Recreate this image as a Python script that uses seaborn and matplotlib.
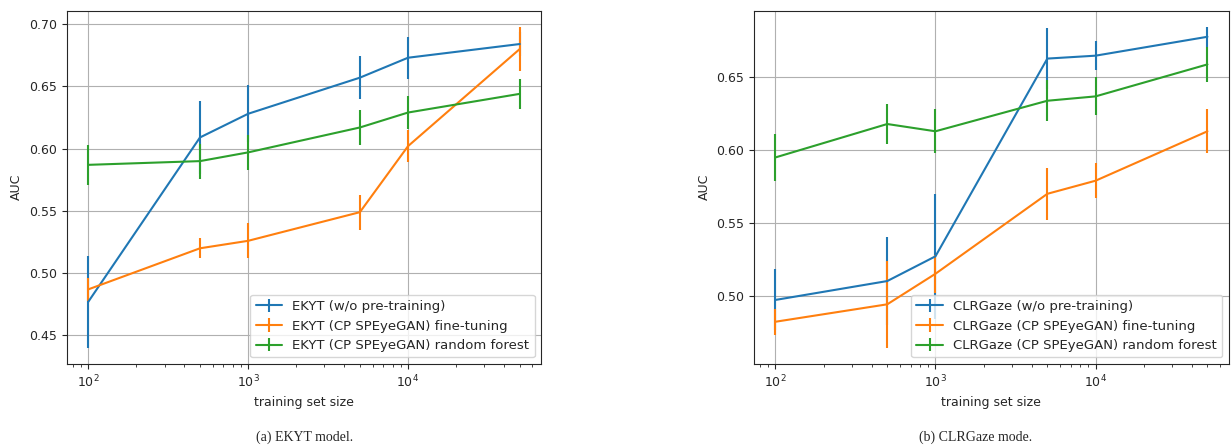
import numpy as np
import pandas as pd
import matplotlib
matplotlib.use("Agg")
import matplotlib.pyplot as plt
import seaborn as sns

sizes = [100, 500, 1000, 5000, 10000, 50000]

# (a) EKYT
ekyt_base = [0.477, 0.609, 0.628, 0.657, 0.673, 0.684]
ekyt_base_err = [0.037, 0.029, 0.023, 0.017, 0.017, 0.010]
ekyt_ft = [0.487, 0.520, 0.526, 0.549, 0.602, 0.680]
ekyt_ft_err = [0.009, 0.008, 0.014, 0.014, 0.013, 0.018]
ekyt_rf = [0.587, 0.590, 0.597, 0.617, 0.629, 0.644]
ekyt_rf_err = [0.016, 0.014, 0.014, 0.014, 0.013, 0.012]

# (b) CLRGaze
clr_base = [0.497, 0.510, 0.527, 0.663, 0.665, 0.678]
clr_base_err = [0.021, 0.030, 0.043, 0.021, 0.010, 0.007]
clr_ft = [0.482, 0.494, 0.515, 0.570, 0.579, 0.613]
clr_ft_err = [0.009, 0.030, 0.013, 0.018, 0.012, 0.015]
clr_rf = [0.595, 0.618, 0.613, 0.634, 0.637, 0.659]
clr_rf_err = [0.016, 0.014, 0.015, 0.014, 0.013, 0.012]

labels_ekyt = ["EKYT (w/o pre-training)",
               "EKYT (CP SPEyeGAN) fine-tuning",
               "EKYT (CP SPEyeGAN) random forest"]
labels_clr = ["CLRGaze (w/o pre-training)",
              "CLRGaze (CP SPEyeGAN) fine-tuning",
              "CLRGaze (CP SPEyeGAN) random forest"]

sns.set_style("ticks")
plt.rcParams["font.family"] = ["DejaVu Sans"]
colors = sns.color_palette("tab10", 3)

fig = plt.figure(figsize=(12.32, 4.48), dpi=100)
ax1 = fig.add_axes([0.0541, 0.1875, 0.3853, 0.789])
ax2 = fig.add_axes([0.6118, 0.1875, 0.3858, 0.789])


def panel(ax, series, labels):
    for (y, e), lab, c in zip(series, labels, colors):
        ax.errorbar(sizes, y, yerr=e, color=c, label=lab, linewidth=1.5)
    ax.set_xscale("log")
    ax.grid(True, color="#b0b0b0", linewidth=0.8)
    ax.set_xlabel("training set size", fontsize=9)
    ax.set_ylabel("AUC", fontsize=9)
    ax.tick_params(labelsize=9)
    ax.yaxis.set_major_formatter(matplotlib.ticker.FormatStrFormatter("%.2f"))
    for s in ax.spines.values():
        s.set_visible(True)
        s.set_linewidth(0.8)
    ax.legend(loc="lower right", fontsize=9.5)


panel(ax1, [(ekyt_base, ekyt_base_err), (ekyt_ft, ekyt_ft_err), (ekyt_rf, ekyt_rf_err)], labels_ekyt)
panel(ax2, [(clr_base, clr_base_err), (clr_ft, clr_ft_err), (clr_rf, clr_rf_err)], labels_clr)

fig.text(0.247, 0.025, "(a) EKYT model.", ha="center", va="center",
         family="Liberation Serif", fontsize=10)
fig.text(0.792, 0.025, "(b) CLRGaze mode.", ha="center", va="center",
         family="Liberation Serif", fontsize=10)

fig.savefig("out.png", dpi=100)
